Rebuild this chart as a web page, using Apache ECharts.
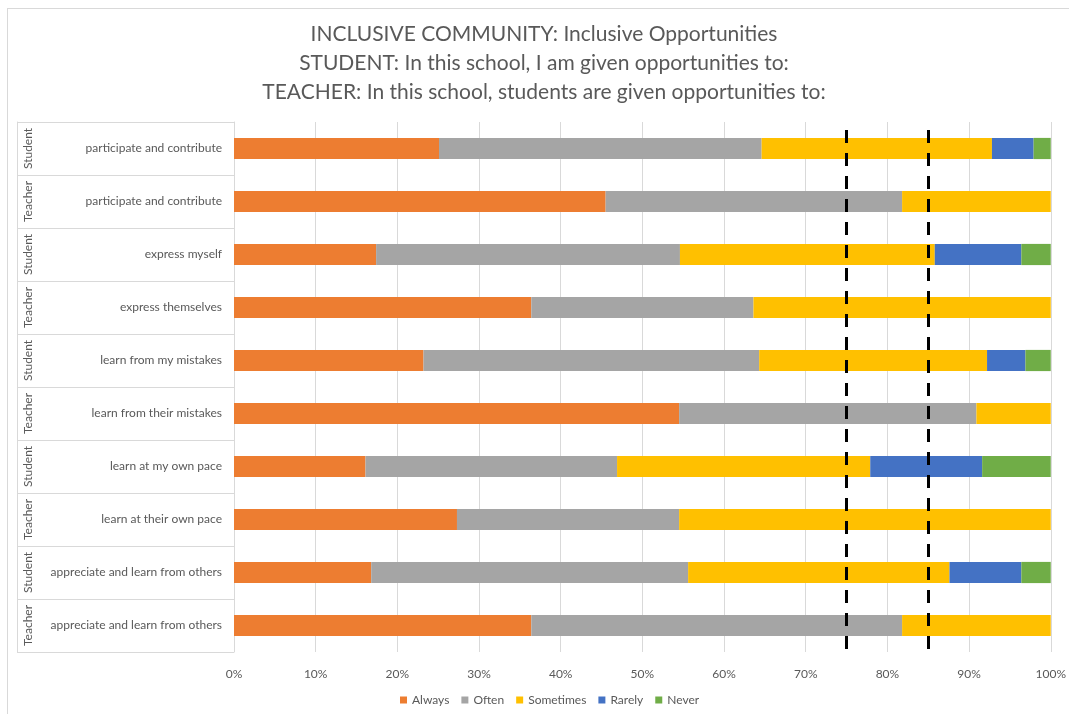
<!DOCTYPE html>
<html>
<head>
<meta charset="utf-8">
<script src="https://cdn.jsdelivr.net/npm/echarts@6/dist/echarts.min.js"></script>
<style>
  html, body { margin: 0; padding: 0; background: #fff; overflow: hidden; }
  #frame { position: absolute; left: 7px; top: 8px; width: 1200px; height: 800px;
           border: 1px solid #d9d9d9; box-sizing: border-box; }
  #chart { position: absolute; left: 0; top: 0; width: 1069px; height: 714px; }
</style>
</head>
<body>
<div id="frame"></div>
<div id="chart"></div>
<script>
// Survey items, top to bottom
const items = [
  'participate and contribute',
  'participate and contribute',
  'express myself',
  'express themselves',
  'learn from my mistakes',
  'learn from their mistakes',
  'learn at my own pace',
  'learn at their own pace',
  'appreciate and learn from others',
  'appreciate and learn from others'
];
// Respondent group for each item
const groups = ['Student', 'Teacher', 'Student', 'Teacher', 'Student', 'Teacher', 'Student', 'Teacher', 'Student', 'Teacher'];

// Share of responses (%) per answer
const always    = [25.1, 45.5, 17.4, 36.4, 23.2, 54.5, 16.1, 27.3, 16.8, 36.4];
const often     = [39.5, 36.3, 37.2, 27.2, 41.1, 36.4, 30.8, 27.2, 38.8, 45.4];
const sometimes = [28.2, 18.2, 31.2, 36.4, 27.9,  9.1, 31.0, 45.5, 32.0, 18.2];
const rarely    = [ 5.1,  0.0, 10.6,  0.0,  4.7,  0.0, 13.7,  0.0,  8.8,  0.0];
const never     = [ 2.1,  0.0,  3.6,  0.0,  3.1,  0.0,  8.4,  0.0,  3.6,  0.0];

// Reference thresholds (%)
const thresholds = [75, 85];

const answerNames = ['Always', 'Often', 'Sometimes', 'Rarely', 'Never'];
const answerData = [always, often, sometimes, rarely, never];
const colors = ['#ED7D31', '#A5A5A5', '#FFC000', '#4472C4', '#70AD47'];

const FONT = 'Lato, "Liberation Sans", sans-serif';
const TXT = '#595959';
const LINE = '#d9d9d9';

const series = answerNames.map((name, i) => {
  const s = {
    name: name,
    type: 'bar',
    stack: 'total',
    yAxisIndex: 0,
    barWidth: '40%',
    itemStyle: { color: colors[i] },
    emphasis: { disabled: true },
    data: answerData[i]
  };
  if (i === answerNames.length - 1) {
    s.markLine = {
      silent: true,
      symbol: ['none', 'none'],
      label: { show: false },
      lineStyle: { color: '#000', width: 3, type: [13, 10], dashOffset: -8 },
      data: thresholds.map(v => ({ xAxis: v }))
    };
  }
  return s;
});

const chart = echarts.init(document.getElementById('chart'), null, { renderer: 'canvas' });
chart.setOption({
  backgroundColor: 'transparent',
  animation: false,
  color: colors,
  title: {
    text: 'INCLUSIVE COMMUNITY: Inclusive Opportunities\nSTUDENT: In this school, I am given opportunities to:\nTEACHER: In this school, students are given opportunities to:',
    left: 544,
    top: 20,
    textAlign: 'center',
    padding: 0,
    textStyle: { fontFamily: FONT, fontSize: 21, fontWeight: 'normal', color: TXT, lineHeight: 29 }
  },
  legend: {
    bottom: 3,
    left: 395,
    padding: 5,
    icon: 'rect',
    itemWidth: 7,
    itemHeight: 7,
    itemGap: 12,
    textStyle: { fontFamily: FONT, fontSize: 12, color: TXT },
    data: answerNames
  },
  grid: { left: 234, right: 18, top: 122, bottom: 62, containLabel: false },
  xAxis: {
    type: 'value',
    min: 0,
    max: 100,
    interval: 10,
    axisLine: { show: false },
    axisTick: { show: false },
    axisLabel: { formatter: '{value}%', fontFamily: FONT, fontSize: 12, color: TXT, margin: 16 },
    splitLine: { lineStyle: { color: LINE, width: 1 } }
  },
  yAxis: [
    {
      type: 'category',
      inverse: true,
      data: items,
      axisLine: { show: true, lineStyle: { color: LINE } },
      axisTick: { show: true, length: 217, lineStyle: { color: LINE } },
      axisLabel: { fontFamily: FONT, fontSize: 12, color: TXT, margin: 12, interval: 0 },
      splitLine: { show: false }
    },
    {
      type: 'category',
      inverse: true,
      position: 'left',
      offset: 195,
      data: groups,
      axisLine: { show: false },
      axisTick: { show: false },
      axisLabel: { fontFamily: FONT, fontSize: 12, color: TXT, rotate: 90, margin: 5, interval: 0, hideOverlap: false },
      splitLine: { show: false }
    },
    {
      type: 'category',
      inverse: true,
      position: 'left',
      offset: 217,
      data: groups,
      axisLine: { show: true, lineStyle: { color: LINE } },
      axisTick: { show: false },
      axisLabel: { show: false },
      splitLine: { show: false }
    }
  ],
  series: series
});
</script>
</body>
</html>
